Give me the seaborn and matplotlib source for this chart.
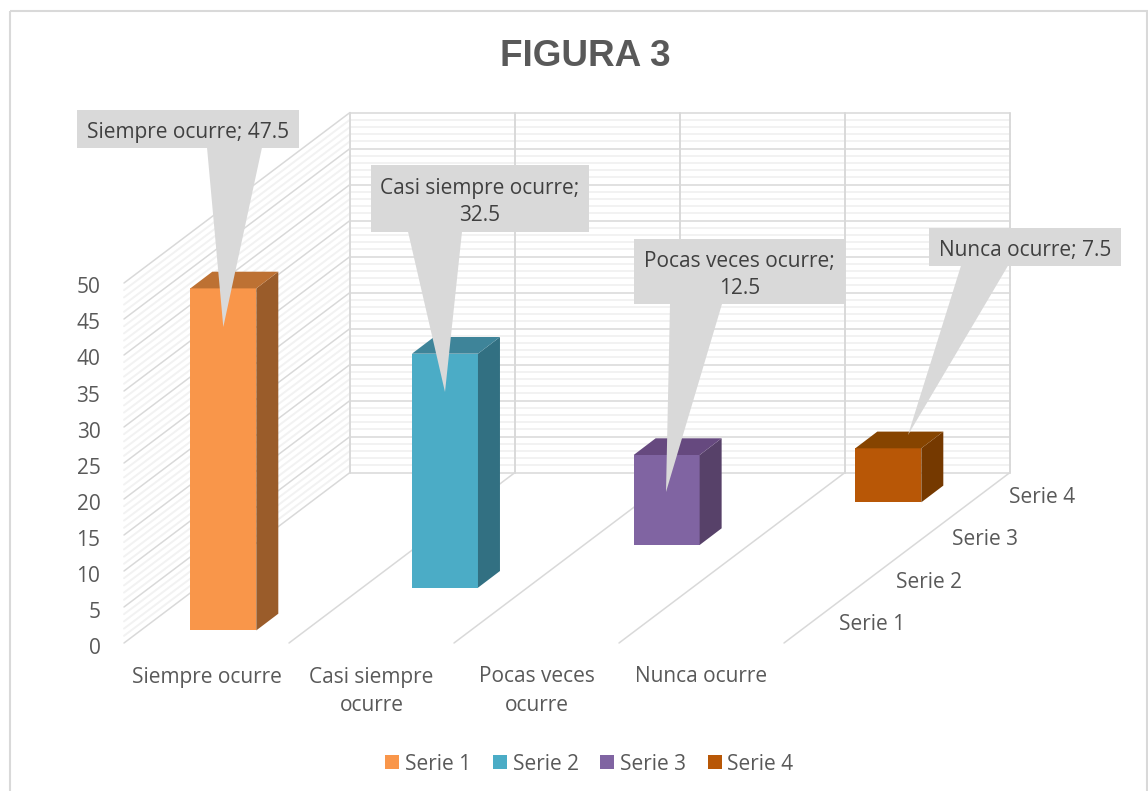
import matplotlib
matplotlib.use("Agg")
import matplotlib.pyplot as plt
from matplotlib.patches import Polygon, Rectangle
from matplotlib.transforms import ScaledTranslation
import seaborn as sns

# Дані
categories = ["Siempre ocurre", "Casi siempre ocurre", "Pocas veces ocurre", "Nunca ocurre"]
cat_labels = ["Siempre ocurre", "Casi siempre\nocurre", "Pocas veces\nocurre", "Nunca ocurre"]
series = ["Serie 1", "Serie 2", "Serie 3", "Serie 4"]
values = [47.5, 32.5, 12.5, 7.5]
callouts = ["Siempre ocurre; 47.5", "Casi siempre ocurre;\n32.5", "Pocas veces ocurre;\n12.5", "Nunca ocurre; 7.5"]
y_ticks = [0, 5, 10, 15, 20, 25, 30, 35, 40, 45, 50]

front_colors = ["#F9964A", "#4BACC6", "#8064A2", "#B85706"]
side_colors = ["#9A5C2A", "#327082", "#574169", "#753900"]
top_colors = ["#BD7133", "#3E8499", "#66497F", "#864400"]

W, H = 1148, 791
GRAY = "#595959"
DARK = "#404040"
FONT = "Open Sans"
FS = 15

# геометрія псевдо-3D у пікселях
Y0, Y50 = 643, 283
PX = (Y0 - Y50) / 50
X_FRONT, X_STEP = 124, 165
DEPTH_X, DEPTH_Y = 226, 170.5
BAR0, BAR_PITCH, BAR_W = 223.3, 221.67, 66
BAR_DX, BAR_DY = 22, 16.7
BASE0, BASE_STEP = 12.6 / PX, 42.7 / PX

sns.set_theme(style="white")
plt.rcParams["font.family"] = [FONT, "DejaVu Sans"]

fig = plt.figure(figsize=(W / 100, H / 100), dpi=100, facecolor="white")

# фон: стіни, сітка, рамка
bg = fig.add_axes([0, 0, 1, 1], zorder=0)
bg.set_xlim(0, W)
bg.set_ylim(H, 0)
bg.axis("off")

bg.add_patch(Rectangle((9.5, 11), W - 11, H, fill=False, ec="#D9D9D9", lw=1.5))

minor = [v for v in range(0, 51) if v not in y_ticks]
for v, col, z in [(v, "#F2F2F2", 1) for v in minor] + [(v, "#D9D9D9", 2) for v in y_ticks]:
    y = Y0 - PX * v
    lw = 1.1 if z == 2 else 1.4
    bg.plot([X_FRONT, X_FRONT + DEPTH_X], [y, y - DEPTH_Y], color=col, lw=lw, zorder=z)
    bg.plot([X_FRONT + DEPTH_X, X_FRONT + DEPTH_X + 4 * X_STEP], [y - DEPTH_Y, y - DEPTH_Y], color=col, lw=lw, zorder=z)

for i in range(5):
    x = X_FRONT + i * X_STEP
    if i > 0:
        bg.plot([x, x + DEPTH_X], [Y0, Y0 - DEPTH_Y], color="#D9D9D9", lw=1.1, zorder=2)
    bg.plot([x + DEPTH_X, x + DEPTH_X], [Y0 - DEPTH_Y, Y50 - DEPTH_Y], color="#D9D9D9", lw=1.4, zorder=2)

bg.text(585.5, 56, "FIGURA 3", family="Liberation Sans", weight="bold", fontsize=26.6, color=GRAY, ha="center", va="center")

for i, lab in enumerate(cat_labels):
    bg.text(X_FRONT + X_STEP * (i + 0.5), 666.5, lab, fontsize=FS, color=GRAY, ha="center", va="top", linespacing=1.45)
for i, s in enumerate(series):
    bg.text(839 + 56.6 * i, 625 - 42.6 * i, s, fontsize=FS, color=GRAY, ha="left", va="center")

# стовпчики
ax = fig.add_axes([X_FRONT / W, 1 - Y0 / H, 4 * X_STEP / W + DEPTH_X / W, (Y0 - Y50) / H], zorder=1)
ax.patch.set_alpha(0)

for i, cat in enumerate(categories):
    sns.barplot(x=[cat], y=[values[i]], order=categories, bottom=BASE0 + i * BASE_STEP, color=front_colors[i],
                saturation=1, width=BAR_W / BAR_PITCH, linewidth=0, ax=ax, legend=False)

x_left = (X_FRONT - BAR0) / BAR_PITCH
ax.set_xlim(x_left, x_left + (4 * X_STEP + DEPTH_X) / BAR_PITCH)
ax.set_ylim(0, 50)

half = BAR_W / BAR_PITCH / 2
dx = BAR_DX / BAR_PITCH
dy = BAR_DY / PX
for i, v in enumerate(values):
    b = BASE0 + i * BASE_STEP
    t = b + v
    ax.fill([i + half, i + half + dx, i + half + dx, i + half], [b, b + dy, t + dy, t], color=side_colors[i], lw=0, clip_on=False)
    ax.fill([i - half, i + half, i + half + dx, i - half + dx], [t, t, t + dy, t + dy], color=top_colors[i], lw=0, clip_on=False)

for sp in ax.spines.values():
    sp.set_visible(False)
ax.set_xlabel("")
ax.set_ylabel("")
ax.set_xticks([])
ax.set_yticks(y_ticks)
ax.tick_params(axis="y", length=0, pad=17, labelsize=FS, labelcolor=GRAY)
for lab in ax.get_yticklabels():
    lab.set_transform(lab.get_transform() + ScaledTranslation(0, -2.5 / 100, fig.dpi_scale_trans))

# виноски з підписами
boxes = [(77, 110, 299, 147.5), (371, 165, 588.5, 231.7), (634, 239, 845, 304), (929, 228, 1121, 265.7)]
tails = [(207, 262, 223.3, 327), (408, 462, 445, 392), (670, 722, 666, 492), (961, 1008, 908, 435)]
for i, txt in enumerate(callouts):
    x0, y0, x1, y1 = boxes[i]
    a, b, tx, ty = tails[i]
    ax.add_patch(Rectangle((x0, y0), x1 - x0, y1 - y0, fc="#D9D9D9", ec="none", transform=bg.transData, clip_on=False, zorder=6))
    ax.add_patch(Polygon([(a, y1), (b, y1), (tx, ty)], fc="#D9D9D9", ec="none", transform=bg.transData, clip_on=False, zorder=6))
    ax.text((x0 + x1) / 2, (y0 + y1) / 2 + 3.5, txt, fontsize=FS, color=DARK, ha="center", va="center", linespacing=1.4,
            transform=bg.transData, clip_on=False, zorder=7)

# легенда
handles = [c[0] for c in ax.containers if len(c) > 0]
fig.legend(handles, series, loc="center", bbox_to_anchor=(589.5 / W, 1 - 764 / H), ncol=4, frameon=False,
           fontsize=FS, labelcolor=GRAY, handlelength=0.67, handleheight=0.67, handletextpad=0.27, columnspacing=1.05)

fig.savefig("out.png", dpi=100)
